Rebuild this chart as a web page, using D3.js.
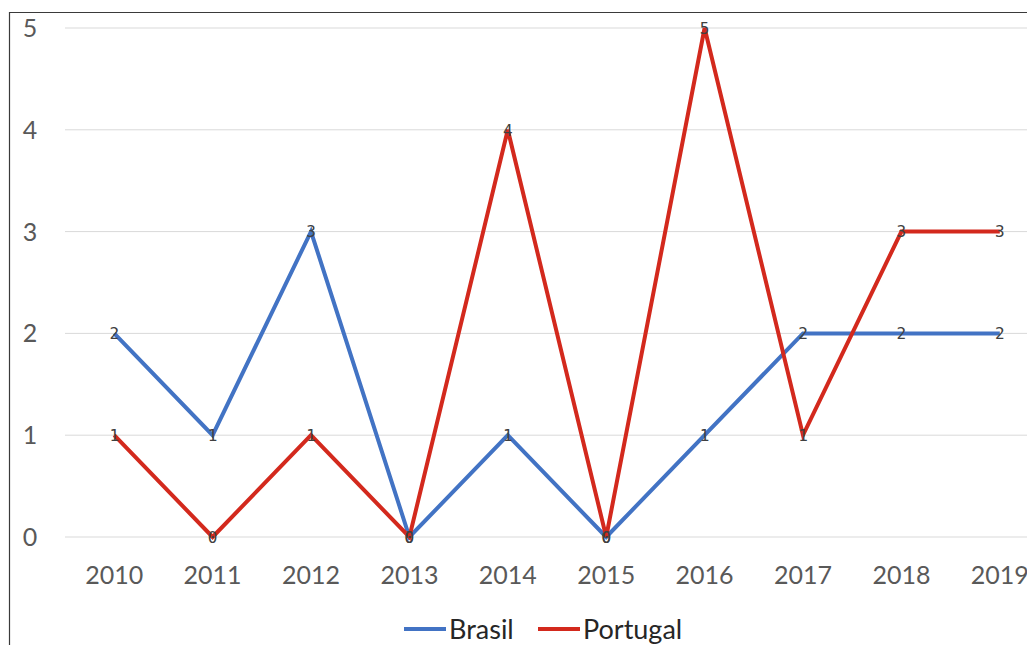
<!DOCTYPE html>
<html>
<head>
<meta charset="utf-8">
<script src="https://cdn.jsdelivr.net/npm/d3@7"></script>
<style>
  body { margin: 0; background: #fff; }
  svg { display: block; }
</style>
</head>
<body>
<div id="chart"></div>
<script>
const years = ["2010","2011","2012","2013","2014","2015","2016","2017","2018","2019"]
const brasil = [2, 1, 3, 0, 1, 0, 1, 2, 2, 2]
const portugal = [1, 0, 1, 0, 4, 0, 5, 1, 3, 3]
const yTicks = [0, 1, 2, 3, 4, 5]

const width = 1027, height = 645
const font = "Lato, 'Open Sans', sans-serif"

const series = [
  {name: "Brasil", values: brasil, color: "#4273c4"},
  {name: "Portugal", values: portugal, color: "#d3291d"}
]

const x = d3.scaleBand()
    .domain(years)
    .range([65, 65 + 98.4 * years.length])

const y = d3.scaleLinear()
    .domain([0, 5])
    .range([537, 28])

const svg = d3.select("#chart").append("svg")
    .attr("width", width)
    .attr("height", height)

// frame (only top and left visible)
svg.append("path")
    .attr("d", `M9.5,${height} V12.5 H${width}`)
    .attr("fill", "none")
    .attr("stroke", "#3a3a3a")
    .attr("stroke-width", 1.2)

// gridlines
svg.append("g")
  .selectAll("line")
  .data(yTicks)
  .join("line")
    .attr("x1", 65)
    .attr("x2", width)
    .attr("y1", d => y(d))
    .attr("y2", d => y(d))
    .attr("stroke", "#d9d9d9")
    .attr("stroke-width", 1)

// y tick labels
svg.append("g")
  .selectAll("text")
  .data(yTicks)
  .join("text")
    .attr("x", 30)
    .attr("y", d => y(d))
    .attr("dy", "0.36em")
    .attr("text-anchor", "middle")
    .style("font", `25px ${font}`)
    .attr("fill", "#595959")
    .text(d => d)

// x tick labels
svg.append("g")
  .selectAll("text")
  .data(years)
  .join("text")
    .attr("x", d => x(d) + x.bandwidth() / 2)
    .attr("y", 575)
    .attr("dy", "0.36em")
    .attr("text-anchor", "middle")
    .style("font", `25px ${font}`)
    .attr("fill", "#595959")
    .text(d => d)

const line = d3.line()
    .x((d, i) => x(years[i]) + x.bandwidth() / 2)
    .y(d => y(d))

svg.append("g")
  .selectAll("path")
  .data(series)
  .join("path")
    .attr("d", d => line(d.values))
    .attr("fill", "none")
    .attr("stroke", d => d.color)
    .attr("stroke-width", 4)
    .attr("stroke-linejoin", "miter")

// data labels
series.forEach(s => {
  svg.append("g")
    .selectAll("text")
    .data(s.values)
    .join("text")
      .attr("x", (d, i) => x(years[i]) + x.bandwidth() / 2)
      .attr("y", d => y(d))
      .attr("dy", "0.36em")
      .attr("text-anchor", "middle")
      .style("font", "16px 'DejaVu Sans Mono', monospace")
      .attr("fill", "#404040")
      .text(d => d)
})

// legend
const legend = svg.append("g")
  .selectAll("g")
  .data(series)
  .join("g")
    .attr("transform", (d, i) => `translate(${i ? 538 : 404},629)`)

legend.append("line")
    .attr("x1", 0).attr("x2", 42)
    .attr("stroke", d => d.color)
    .attr("stroke-width", 4)

legend.append("text")
    .attr("x", 45)
    .attr("dy", "0.36em")
    .style("font", `27px ${font}`)
    .attr("fill", "#262626")
    .text(d => d.name)
</script>
</body>
</html>
